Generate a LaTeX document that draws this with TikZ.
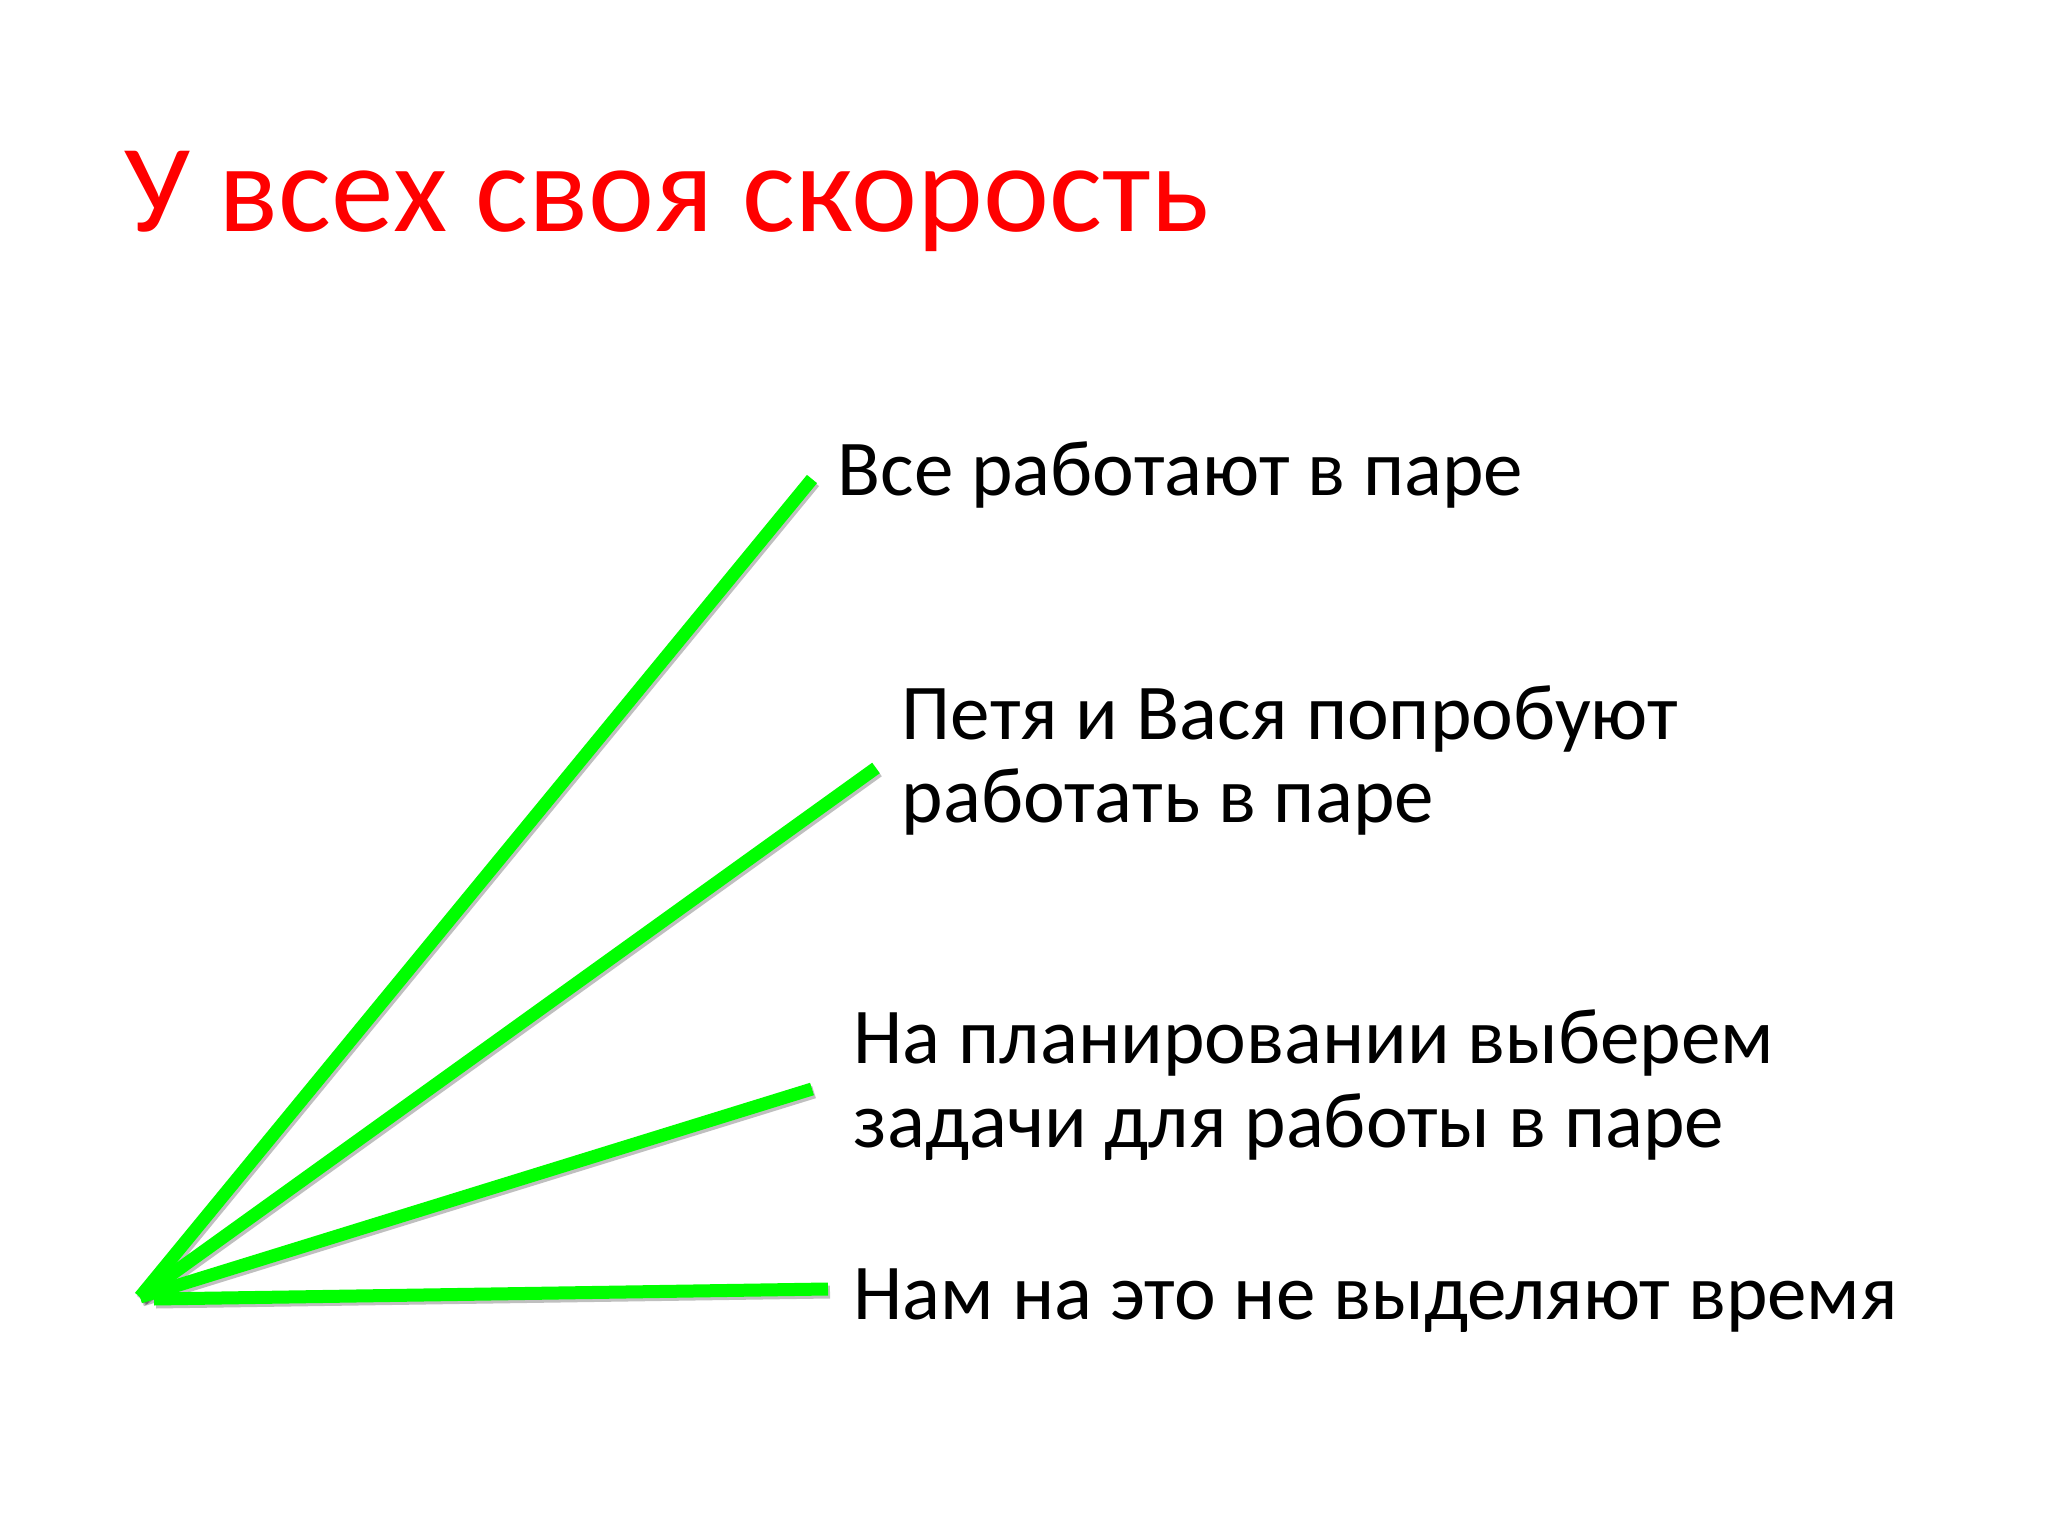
\documentclass[tikz,border=0pt]{standalone}
\usepackage{fontspec}
\setmainfont{Carlito}
\usepackage{tikz}
\usetikzlibrary{calc}
\definecolor{slidered}{RGB}{255,0,0}
\definecolor{slidegreen}{RGB}{0,255,0}
\tikzstyle{title} = [anchor=base west, inner sep=0pt, text=slidered, font=\fontsize{35.6}{40}\selectfont]
\tikzstyle{item} = [anchor=base west, inner sep=0pt, align=left, font=\fontsize{22.5}{23.8}\selectfont]
\tikzstyle{ray} = [line width=0.13cm, slidegreen]
\tikzstyle{rayshadow} = [line width=0.13cm, black, opacity=0.25]

\begin{document}
\begin{tikzpicture}
    \useasboundingbox[fill=white] (0,0) rectangle (20.48,-15.36);

    \node (title) [title] at (1.24,-2.32) {У всех своя скорость};

    % Labels (base = last line)
    \node (i1) [item] at (8.37,-4.96) {Все работают в паре};
    \node (i2) [item] at (9.01,-8.23) {Петя и Вася попробуют\\работать в паре};
    \node (i3) [item] at (8.53,-11.47) {На планировании выберем\\задачи для работы в паре};
    \node (i4) [item] at (8.53,-13.19) {Нам на это не выделяют время};

    % Common start and free ends of the rays
    \coordinate (o) at (1.40,-12.97);
    \coordinate (o4) at (1.54,-12.99);
    \coordinate (e1) at (8.12,-4.79);
    \coordinate (e2) at (8.76,-7.68);
    \coordinate (e3) at (8.12,-10.89);
    \coordinate (e4) at (8.28,-12.89);

    % Shadows
    \foreach \s/\e in {o/e1, o/e2, o/e3, o4/e4}
        \draw [rayshadow] ($(\s)+(0.02,-0.03)$) -- ($(\e)+(0.02,-0.03)$);

    % Rays
    \draw [ray] (o) -- (e1);
    \draw [ray] (o) -- (e2);
    \draw [ray] (o) -- (e3);
    \draw [ray] (o4) -- (e4);
\end{tikzpicture}
\end{document}
